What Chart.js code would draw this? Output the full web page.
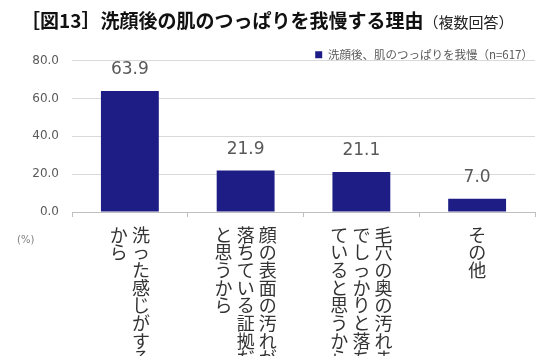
<!DOCTYPE html>
<html><head><meta charset="utf-8">
<script src="https://cdn.jsdelivr.net/npm/chart.js@4"></script>
<style>
html,body{margin:0;padding:0;background:#fff;}
#wrap{position:relative;width:543px;height:356px;overflow:hidden;}
#title{position:absolute;left:21px;top:9px;font-family:"Noto Sans CJK JP";font-weight:bold;font-size:19px;line-height:22px;color:#111;white-space:nowrap;}
#title span{font-weight:normal;font-size:15px;color:#222;}
#unit{position:absolute;left:17px;top:234px;font-family:"DejaVu Sans";font-size:10px;color:#7f7f7f;}
canvas{position:absolute;left:0;top:0;}
</style></head>
<body>
<div id="wrap">
<canvas id="c" width="543" height="356"></canvas>
<div id="title">［図13］洗顔後の肌のつっぱりを我慢する理由<span>（複数回答）</span></div>
<div id="unit">(%)</div>
</div>
<script>
// categories: each label given as vertical columns, read right-to-left
const categoryColumns = [
  ["洗った感じがする", "から"],
  ["顔の表面の汚れが", "落ちている証拠だ", "と思うから"],
  ["毛穴の奥の汚れま", "でしっかりと落ち", "ていると思うから"],
  ["その他"]
];
const seriesName = "洗顔後、肌のつっぱりを我慢（n=617）";
const values = [63.9, 21.9, 21.1, 7.0];
const yTicks = [0, 20, 40, 60, 80];

// Build multi-line labels emulating vertical (tategaki) writing
function verticalLabel(cols) {
  const maxLen = Math.max(...cols.map(c => c.length));
  const lines = [];
  for (let i = 0; i < maxLen; i++) {
    const row = [];
    for (let j = cols.length - 1; j >= 0; j--) {
      row.push(cols[j][i] || "\u3000");
    }
    lines.push(row.join(" "));
  }
  return lines;
}
const labels = categoryColumns.map(verticalLabel);

const valueLabels = {
  id: "valueLabels",
  beforeLayout(chart) {
    const lg = chart.legend;
    if (lg && !lg._tight) {
      const fit = lg.fit.bind(lg);
      lg.fit = function () { fit(); if (this.height) this.height -= 10; };
      lg._tight = true;
    }
  },
  afterDatasetsDraw(chart) {
    const ctx = chart.ctx;
    const meta = chart.getDatasetMeta(0);
    ctx.save();
    ctx.font = "17px 'DejaVu Sans'";
    ctx.fillStyle = "#595959";
    ctx.textAlign = "center";
    ctx.textBaseline = "middle";
    meta.data.forEach((bar, i) => {
      ctx.fillText(values[i].toFixed(1), bar.x, bar.y - 21);
    });
    ctx.restore();
  }
};

new Chart(document.getElementById("c"), {
  type: "bar",
  data: {
    labels: labels,
    datasets: [{
      label: seriesName,
      data: values,
      backgroundColor: "#1d1d85",
      borderWidth: 0,
      categoryPercentage: 1.0,
      barPercentage: 0.5
    }]
  },
  options: {
    responsive: false,
    animation: false,
    layout: { padding: { top: 47, right: 8, left: 0, bottom: 0 } },
    plugins: {
      legend: {
        position: "top",
        align: "end",
        labels: {
          boxWidth: 7, boxHeight: 7,
          padding: 2,
          color: "#595959",
          font: { family: "'Noto Sans CJK JP'", size: 11.5 }
        }
      },
      tooltip: { enabled: false }
    },
    scales: {
      x: {
        grid: { drawOnChartArea: false, drawTicks: true, tickLength: 5, color: "#bfbfbf", offset: true },
        border: { display: true, color: "#bfbfbf" },
        ticks: {
          autoSkip: false, maxRotation: 0, minRotation: 0, padding: 9,
          color: "#333",
          font: { family: "'Noto Sans CJK JP'", size: 18, lineHeight: 0.98 }
        },
        afterFit(scale) { scale.height = 144; }
      },
      y: {
        min: 0, max: 80,
        afterBuildTicks(scale) { scale.ticks = yTicks.map(v => ({ value: v })); },
        grid: { color: "#d9d9d9", drawTicks: false },
        border: { display: false },
        ticks: {
          padding: 13,
          color: "#595959",
          font: { family: "'DejaVu Sans'", size: 12 },
          callback: v => Number(v).toFixed(1)
        },
        afterFit(scale) { scale.width = 72; }
      }
    }
  },
  plugins: [valueLabels]
});
</script>
</body></html>
